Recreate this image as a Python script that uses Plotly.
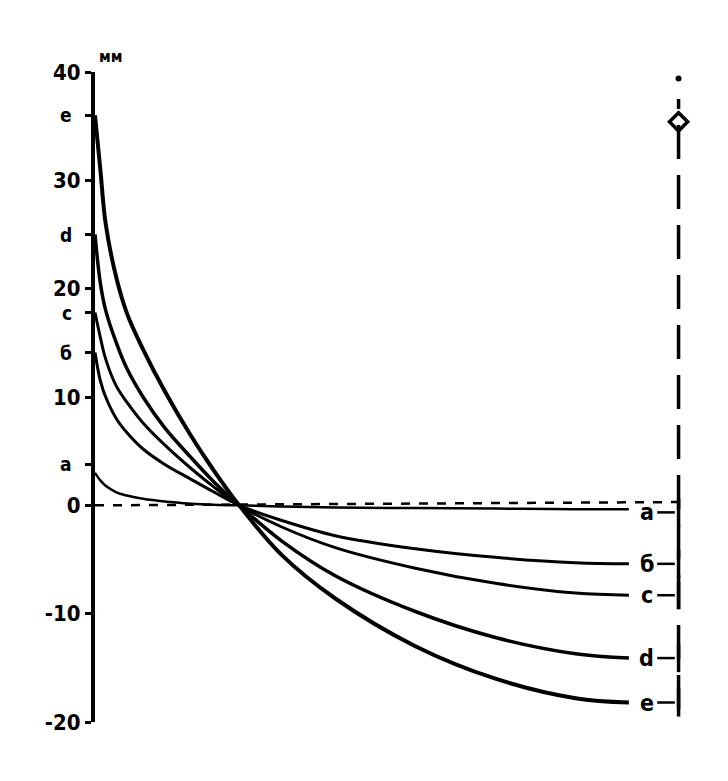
import plotly.graph_objects as go

# Shared abscissa (arbitrary units, no scale printed on the original)
x = [0, 1, 2, 4, 6, 9, 13, 18, 22, 27, 35, 45, 60, 75, 90, 100]

# Curves (mm)
curve_a = [3.0, 2.3, 1.8, 1.2, 0.9, 0.6, 0.35, 0.15, 0.05, 0, -0.1, -0.2, -0.25, -0.3, -0.35, -0.35]
curve_b = [14.1, 11.5, 10.0, 8.0, 6.7, 5.2, 3.8, 2.4, 1.3, 0, -1.4, -2.8, -4.0, -4.8, -5.3, -5.4]
curve_c = [17.8, 15.5, 13.5, 11.0, 9.5, 7.6, 5.6, 3.4, 1.8, 0, -2.0, -3.9, -5.8, -7.2, -8.1, -8.3]
curve_d = [25.0, 20.5, 18.0, 15.0, 12.6, 10.0, 7.2, 4.4, 2.3, 0, -3.3, -6.5, -9.8, -12.2, -13.7, -14.1]
curve_e = [36.0, 31.0, 26.0, 21.0, 17.7, 14.4, 10.6, 6.4, 3.4, 0, -4.6, -8.6, -13.0, -16.0, -17.8, -18.2]

curve_names = ["a", "б", "c", "d", "e"]
curve_widths = [2.5, 3, 3, 3.5, 4]

# Axis numbers
num_vals = [40, 30, 20, 10, 0, -10, -20]
num_text = ["40", "30", "20", "10", "0", "-10", "-20"]
# Curve start markers on the axis
start_vals = [36, 25, 17.8, 14.1, 3.8]
start_text = ["e", "d", "c", "б", "a"]

# Right reference line (mm) and its marker
ref_x = 109.3
ref_bottom, ref_top = -18.8, 37.5
ref_marker_y = 35.4
ref_dot_y = 39.4

FONT = "DejaVu Sans Condensed, Liberation Sans Narrow, sans-serif"

curves = [curve_a, curve_b, curve_c, curve_d, curve_e]

fig = go.Figure()

# zero dashed line
fig.add_trace(go.Scatter(x=[0, ref_x], y=[0, 0.3], mode="lines",
                         line=dict(color="black", width=2.5, dash="dash"),
                         showlegend=False, hoverinfo="skip"))

for name, ys, w in zip(curve_names, curves, curve_widths):
    fig.add_trace(go.Scatter(x=x, y=ys, mode="lines", name=name,
                             line=dict(color="black", width=w, shape="spline", smoothing=1.0),
                             showlegend=False, cliponaxis=False))

# right dashed reference line
fig.add_trace(go.Scatter(x=[ref_x, ref_x], y=[ref_bottom, ref_top], mode="lines",
                         line=dict(color="black", width=3.5, dash="34px,16px"),
                         showlegend=False, hoverinfo="skip", cliponaxis=False))
fig.add_trace(go.Scatter(x=[ref_x], y=[ref_marker_y], mode="markers",
                         marker=dict(symbol="diamond-open", size=14, color="black",
                                     line=dict(width=3.5, color="black")),
                         showlegend=False, hoverinfo="skip", cliponaxis=False))
fig.add_trace(go.Scatter(x=[ref_x], y=[ref_dot_y], mode="markers",
                         marker=dict(symbol="circle", size=6, color="black"),
                         showlegend=False, hoverinfo="skip", cliponaxis=False))

# curve labels at the right with short connector dashes
for name, ys in zip(curve_names, curves):
    yend = ys[-1] if name != "a" else ys[-1] - 0.3
    fig.add_annotation(x=103.3, y=yend, text=name, showarrow=False,
                       font=dict(family=FONT, size=23, color="black", weight="bold"),
                       xanchor="center", yanchor="middle")
    fig.add_shape(type="line", x0=105.3, x1=108.6, y0=yend, y1=yend,
                  line=dict(color="black", width=2.5))
    fig.add_shape(type="line", x0=ref_x, x1=ref_x, y0=yend - 1.3, y1=yend + 1.3,
                  line=dict(color="black", width=3.5))

# curve start letters beside the axis
for v, t in zip(start_vals, start_text):
    fig.add_annotation(x=-0.035, y=v, xref="paper", yref="y", text=t, showarrow=False,
                       font=dict(family=FONT, size=19, color="black", weight="bold"),
                       xanchor="right", yanchor="middle")

# unit label
fig.add_annotation(x=0.026, y=1.024, xref="paper", yref="paper", text="мм", showarrow=False,
                   font=dict(family=FONT, size=16, color="black", weight="bold"),
                   xanchor="center", yanchor="middle")

fig.update_xaxes(range=[0, 115], visible=False, showgrid=False, zeroline=False)
fig.update_yaxes(range=[-20, 40],
                 tickvals=num_vals + start_vals,
                 ticktext=num_text + [""] * len(start_vals),
                 showline=True, linecolor="black", linewidth=4,
                 ticks="outside", ticklen=6, tickwidth=3, tickcolor="black",
                 showgrid=False, zeroline=False,
                 tickfont=dict(family=FONT, size=22, color="black", weight="bold"))

fig.update_layout(width=728, height=781, plot_bgcolor="white", paper_bgcolor="white",
                  margin=dict(l=95, r=19, t=72, b=59), showlegend=False)

fig.write_html("out.html")
